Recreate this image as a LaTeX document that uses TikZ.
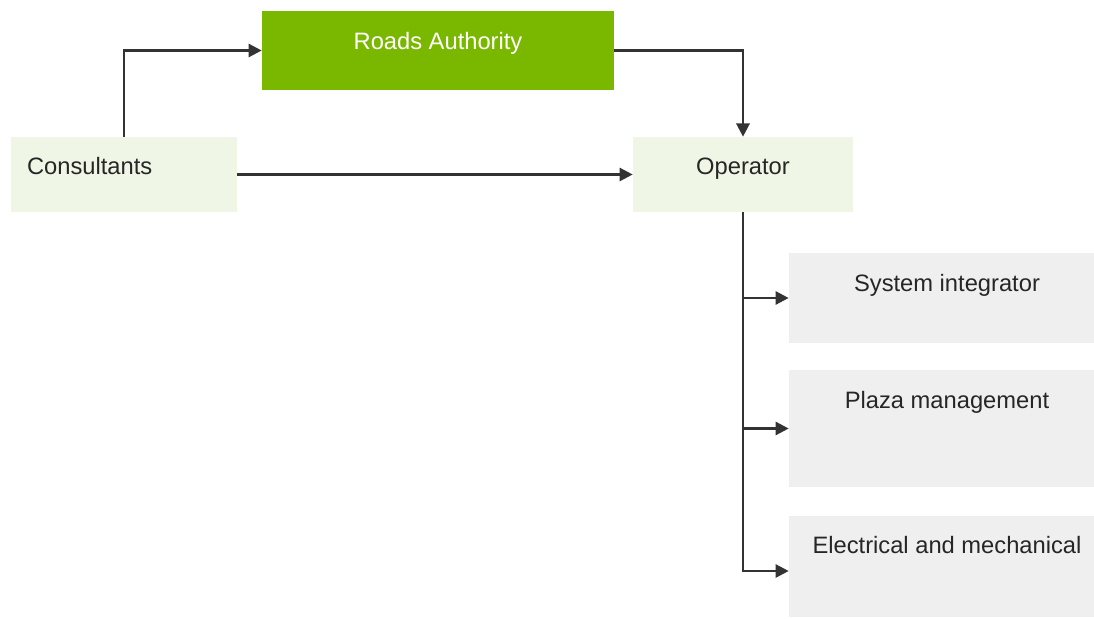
\documentclass[tikz,border=0pt]{standalone}
\usepackage{fontspec}
\setmainfont{Liberation Sans}
\usepackage{xcolor}
\usetikzlibrary{arrows.meta}

\definecolor{roadgreen}{HTML}{7AB800}
\definecolor{palegreen}{HTML}{F0F6E6}
\definecolor{palegray}{HTML}{EFEFEF}
\definecolor{linegray}{HTML}{333333}

\begin{document}
\begin{tikzpicture}[x=0.02cm, y=-0.02cm,
    box/.style={rectangle, inner xsep=0pt, inner ysep=0pt, align=center,
        text=black!85, font=\fontsize{13.5}{16}\selectfont},
    arr/.style={draw=linegray, line width=1.4pt, -{Triangle[length=7.5pt, width=7.5pt]}}]
    \clip (0,0) rectangle (1094,618);
    \fill[white] (0,0) rectangle (1094,618);

    % Top row
    \node[box, fill=roadgreen, text=white, minimum width=7.04cm,
        text height=0.77cm, text depth=0.81cm] (roads) at (438,50.5) {Roads Authority};
    \node[box, fill=palegreen, minimum width=4.52cm, inner xsep=0.32cm,
        text width=3.88cm, align=left, text height=0.74cm, text depth=0.76cm] (cons) at (124,174.5) {Consultants};
    \node[box, fill=palegreen, minimum width=4.4cm,
        text height=0.74cm, text depth=0.76cm] (oper) at (743,174.5) {Operator};

    % Sub-contractors
    \node[box, fill=palegray, minimum width=6.32cm,
        text height=0.77cm, text depth=1.03cm] (sysint) at (947,298) {System integrator};
    \node[box, fill=palegray, minimum width=6.32cm,
        text height=0.77cm, text depth=1.57cm] (plaza) at (947,428.5) {Plaza management};
    \node[box, fill=palegray, minimum width=6.32cm,
        text height=0.75cm, text depth=1.27cm] (elec) at (947,566.5) {Electrical and mechanical};

    % Arrows
    \draw[arr] (cons.north) |- (roads.west);
    \draw[arr] (roads.east) -| (oper.north);
    \draw[arr] (cons.east) -- (oper.west);
    \draw[arr] (oper.south) |- (sysint.west);
    \draw[arr] (oper.south) |- (plaza.west);
    \draw[arr] (oper.south) |- ([yshift=-0.09cm]elec.west);
\end{tikzpicture}
\end{document}
